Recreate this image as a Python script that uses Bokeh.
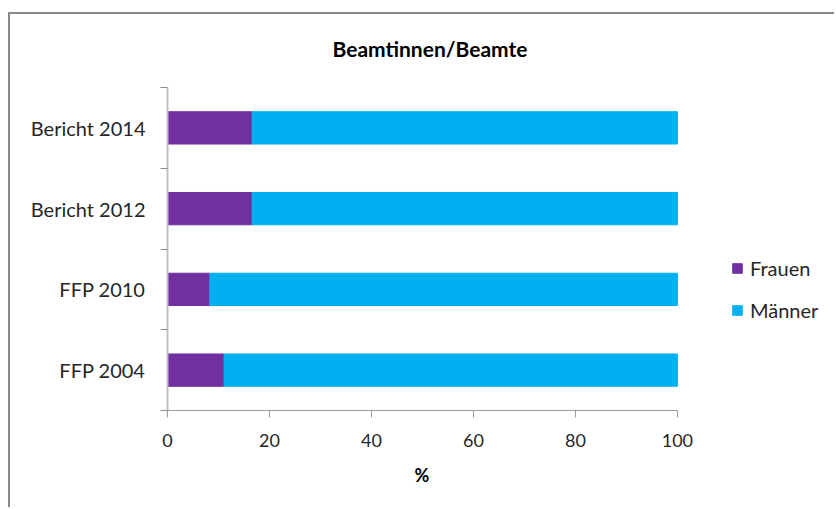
from bokeh.plotting import figure
from bokeh.models import Range1d, FixedTicker, ColumnDataSource, Title
from bokeh.embed import file_html
from bokeh.resources import INLINE

# ---- data ----
categories = ["FFP 2004", "FFP 2010", "Bericht 2012", "Bericht 2014"]
frauen = [11.1, 8.3, 16.6, 16.6]
maenner = [88.9, 91.7, 83.4, 83.4]
series = ["Frauen", "Männer"]
colors = ["#7030A0", "#00B0F0"]
x_ticks = [0, 20, 40, 60, 80, 100]
title_text = "Beamtinnen/Beamte"
x_label = "%"

FONT = "Lato"
TXT = "#262626"

ypos = [i + 0.5 for i in range(len(categories))]
source = ColumnDataSource(dict(y=ypos, Frauen=frauen, Männer=maenner))

p = figure(
    width=826, height=495, title=None,
    x_range=Range1d(0, 131.2), y_range=Range1d(0, len(categories)),
    output_backend="svg", toolbar_location=None,
    min_border_left=157, min_border_right=0,
    min_border_top=73, min_border_bottom=99,
    margin=(14, 0, 0, 10),
    styles={"box-shadow": "-2px -2px 0 0 #8a8a8a"},
)
p.outline_line_color = None
p.xgrid.visible = False
p.ygrid.visible = False
p.background_fill_color = "white"
p.border_fill_color = "white"

# spacer between chart title and plot area, then the title itself
p.add_layout(Title(text=" ", text_font_size="1px", standoff=19), "above")
p.add_layout(Title(text=title_text, align="left", offset=165, standoff=10,
                   text_font=FONT, text_font_size="21px", text_font_style="bold",
                   text_color="black"), "above")

p.hbar_stack(series, y="y", height=0.4, color=colors, source=source,
             legend_label=series)

# x axis
xa = p.xaxis[0]
xa.ticker = FixedTicker(ticks=x_ticks)
xa.bounds = (0, 100)
xa.axis_line_color = "#9a9a9a"
xa.axis_line_width = 1
xa.major_tick_line_color = "#9a9a9a"
xa.major_tick_in = 0
xa.major_tick_out = 7
xa.minor_tick_line_color = None
xa.major_label_standoff = 16
xa.major_label_text_font = FONT
xa.major_label_text_font_size = "18px"
xa.major_label_text_color = TXT

p.add_layout(Title(text=x_label, align="left", offset=247, standoff=25,
                   text_font=FONT, text_font_size="18px", text_font_style="bold",
                   text_color="black"), "below")

# y axis
ya = p.yaxis[0]
ya.ticker = FixedTicker(ticks=ypos, minor_ticks=list(range(len(categories) + 1)))
ya.major_label_overrides = {y: c for y, c in zip(ypos, categories)}
ya.major_tick_line_color = None
ya.major_tick_in = 0
ya.major_tick_out = 0
ya.minor_tick_line_color = "#8a8a8a"
ya.minor_tick_line_width = 1
ya.minor_tick_in = 0
ya.minor_tick_out = 7
ya.axis_line_color = "#bfbfbf"
ya.axis_line_width = 2
ya.major_label_standoff = 15
ya.major_label_text_font = FONT
ya.major_label_text_font_size = "20px"
ya.major_label_text_color = TXT

# legend
lg = p.legend[0]
lg.location = (564, 88)
lg.orientation = "vertical"
lg.padding = 0
lg.margin = 0
lg.border_line_color = None
lg.background_fill_alpha = 0
lg.glyph_width = 12
lg.glyph_height = 12
lg.label_height = 20
lg.spacing = 18
lg.label_standoff = 7
lg.label_text_font = FONT
lg.label_text_font_size = "20px"
lg.label_text_color = TXT

open("out.html", "w", encoding="utf-8").write(file_html(p, INLINE))
